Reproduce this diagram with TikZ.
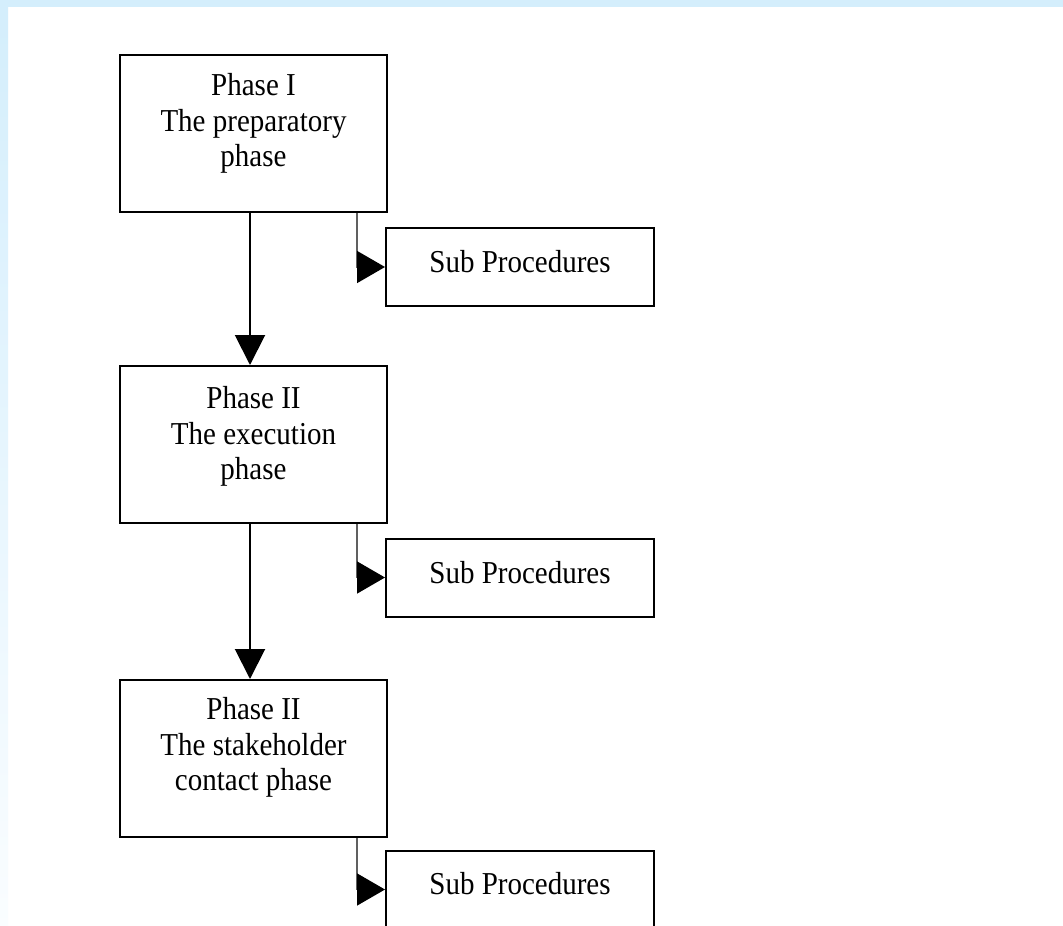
\documentclass[tikz,border=0pt]{standalone}
\usepackage{fontspec}
\usepackage{graphicx}
\setmainfont{Liberation Serif}
\usetikzlibrary{arrows.meta}
\definecolor{bgblue}{HTML}{D4EEFC}
\definecolor{conngray}{HTML}{606060}
\newcommand{\tallline}[1]{\scalebox{1}[1.1]{#1}}
\begin{document}
\begin{tikzpicture}[x=1pt,y=-1pt,
  phasebox/.style={draw=black,line width=2pt,minimum width=267pt,minimum height=157pt,inner sep=0pt},
  subbox/.style={draw=black,line width=2pt,minimum width=268pt,minimum height=78pt,inner sep=0pt},
  boxtext/.style={align=center,inner sep=0pt,font=\fontsize{29}{35.5}\selectfont},
  mainarrow/.style={draw=black,line width=2pt,-{Triangle[width=30pt,length=30pt]}},
  subconn/.style={draw=conngray,line width=1.6pt,-{Triangle[width=32pt,length=28pt,color=black]}}]
\useasboundingbox (0,0) rectangle (1063,926);
\clip (0,0) rectangle (1063,926);
\fill[white] (0,0) rectangle (1063,926);
\fill[bgblue] (0,0) rectangle (1063,7);
\shade[top color=bgblue,bottom color=bgblue!12] (0,7) rectangle (8,926);
% phase boxes
\node[phasebox] (p1) at (253.5,133.5) {};
\node[phasebox] (p2) at (253.5,444.5) {};
\node[phasebox] (p3) at (253.5,758.5) {};
\node[boxtext] (t1) at ([yshift=10pt]p1.center) {\tallline{Phase I}\\\tallline{The preparatory}\\\tallline{phase}};
\node[boxtext] (t2) at ([yshift=8pt]p2.center) {\tallline{Phase II}\\\tallline{The execution}\\\tallline{phase}};
\node[boxtext] (t3) at ([yshift=11pt]p3.center) {\tallline{Phase II}\\\tallline{The stakeholder}\\\tallline{contact phase}};
% sub procedure boxes
\node[subbox] (s1) at (520,267) {};
\node[subbox] (s2) at (520,577.5) {};
\node[subbox] (s3) at (520,889.5) {};
\node[boxtext] (u1) at ([yshift=5pt]s1.center) {\tallline{Sub Procedures}};
\node[boxtext] (u2) at ([yshift=5pt]s2.center) {\tallline{Sub Procedures}};
\node[boxtext] (u3) at ([yshift=6pt]s3.center) {\tallline{Sub Procedures}};
% connectors
\draw[mainarrow] ([xshift=-3.5pt]p1.south) -- ([xshift=-3.5pt]p2.north);
\draw[mainarrow] ([xshift=-3.5pt]p2.south) -- ([xshift=-3.5pt]p3.north);
\draw[subconn] ([xshift=-31pt]p1.south east) |- (s1.west);
\draw[subconn] ([xshift=-31pt]p2.south east) |- (s2.west);
\draw[subconn] ([xshift=-31pt]p3.south east) |- (s3.west);
\end{tikzpicture}
\end{document}
